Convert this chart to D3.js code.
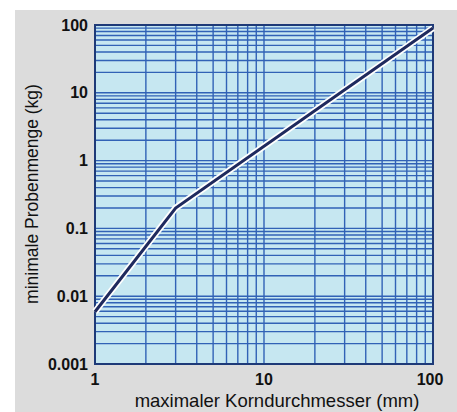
<!DOCTYPE html>
<html><head><meta charset="utf-8">
<script src="https://cdn.jsdelivr.net/npm/d3@7"></script>
<style>body{margin:0;background:#fff}svg{display:block}</style>
</head><body>
<svg id="c" width="457" height="412"></svg>
<script>
const xTicks = [1, 10, 100];
const yTicks = [0.001, 0.01, 0.1, 1, 10, 100];
const yTickLabels = ["0.001", "0.01", "0.1", "1", "10", "100"];
const lineX = [1, 3, 100];
const lineY = [0.0059, 0.2, 90];
const xTitle = "maximaler Korndurchmesser (mm)";
const yTitle = "minimale Probenmenge (kg)";

const svg = d3.select("#c");
const L = 95, R = 433, T = 25, B = 364;
svg.append("rect").attr("x", 15).attr("y", 10).attr("width", 442).attr("height", 402).attr("fill", "#dcdcdc");

const x = d3.scaleLog().domain([1, 100]).range([L, R]);
const y = d3.scaleLog().domain([0.001, 100]).range([B, T]);

svg.append("rect").attr("x", L).attr("y", T).attr("width", R - L).attr("height", B - T).attr("fill", "#c6e7f1");

const gridCol = "#3162b6";
const xGrid = [];
for (let d = 1; d < 100; d *= 10) for (let k = 1; k <= 9; k++) xGrid.push(d * k);
const yGrid = [];
for (let d = 0.001; d < 99; d *= 10) for (let k = 1; k <= 9; k++) yGrid.push(+(d * k).toPrecision(3));

const g = svg.append("g");
g.selectAll("line.v").data(xGrid).join("line")
  .attr("x1", d => x(d)).attr("x2", d => x(d)).attr("y1", T).attr("y2", B)
  .attr("stroke", gridCol).attr("stroke-width", 1.4);
g.selectAll("line.h").data(yGrid).join("line")
  .attr("y1", d => y(d)).attr("y2", d => y(d)).attr("x1", L).attr("x2", R)
  .attr("stroke", gridCol).attr("stroke-width", 1.4);

svg.append("rect").attr("x", L).attr("y", T).attr("width", R - L).attr("height", B - T)
  .attr("fill", "none").attr("stroke", "#1e3a78").attr("stroke-width", 2);

const pts = lineX.map((v, i) => [v, lineY[i]]);
const line = d3.line().x(d => x(d[0])).y(d => y(d[1]));
svg.append("path").datum(pts).attr("d", line).attr("fill", "none")
  .attr("stroke", "#ffffff").attr("stroke-width", 6.5);
svg.append("path").datum(pts).attr("d", line).attr("fill", "none")
  .attr("stroke", "#1f2a5e").attr("stroke-width", 3);

const font = "Liberation Sans, Arial, sans-serif";
svg.selectAll("text.yl").data(yTicks).join("text")
  .attr("x", 88).attr("y", d => y(d)).attr("dy", "0.35em")
  .attr("text-anchor", "end").attr("font-family", font).attr("font-weight", "bold")
  .attr("font-size", 16).attr("fill", "#111").text((d, i) => yTickLabels[i]);
svg.selectAll("text.xl").data(xTicks).join("text")
  .attr("x", d => x(d) - (d === 100 ? 3 : 0)).attr("y", 385)
  .attr("text-anchor", "middle").attr("font-family", font).attr("font-weight", "bold")
  .attr("font-size", 16).attr("fill", "#111").text(d => String(d));

svg.append("text").attr("x", 277).attr("y", 407).attr("text-anchor", "middle")
  .attr("font-family", font).attr("font-size", 18.5).attr("fill", "#111").text(xTitle);
svg.append("text").attr("transform", "translate(38,194) rotate(-90)").attr("text-anchor", "middle")
  .attr("font-family", font).attr("font-size", 17.5).attr("fill", "#111").text(yTitle);
</script>
</body></html>
